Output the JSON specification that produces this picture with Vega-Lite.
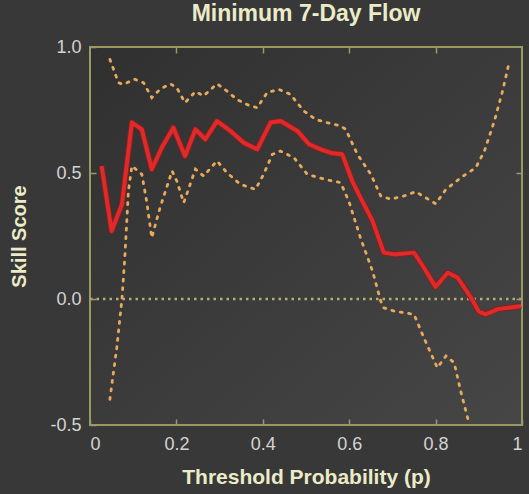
{
  "$schema": "https://vega.github.io/schema/vega-lite/v6.json",
  "width": 432,
  "height": 378,
  "autosize": "none",
  "padding": {"left": 90, "top": 47, "right": 7, "bottom": 69},
  "background": "#383838",
  "title": {"text": "Minimum 7-Day Flow", "fontSize": 23, "font": "Liberation Sans", "fontWeight": "bold", "color": "#ecebc8", "offset": 12, "anchor": "middle"},
  "config": {
    "view": {"stroke": "#9a9a60", "strokeWidth": 2, "fill": {"gradient": "linear", "x1": 0, "y1": 0, "x2": 1, "y2": 1, "stops": [{"offset": 0, "color": "#303030"}, {"offset": 1, "color": "#464646"}]}},
    "axis": {"domain": false, "grid": false, "labelFont": "Liberation Sans", "labelFontSize": 18, "labelColor": "#d4d4d0", "titleFont": "Liberation Sans", "titleFontSize": 21, "titleFontWeight": "bold", "titleColor": "#ecebc8"}
  },
  "datasets": {
    "red": [
      {"p":0.027,"s":0.528},{"p":0.05,"s":0.27},{"p":0.074,"s":0.376},{"p":0.097,"s":0.70},{"p":0.12,"s":0.673},{"p":0.143,"s":0.515},{"p":0.166,"s":0.60},{"p":0.193,"s":0.68},{"p":0.22,"s":0.567},{"p":0.244,"s":0.673},{"p":0.267,"s":0.634},{"p":0.294,"s":0.706},{"p":0.325,"s":0.667},{"p":0.356,"s":0.62},{"p":0.387,"s":0.594},{"p":0.418,"s":0.70},{"p":0.441,"s":0.706},{"p":0.48,"s":0.667},{"p":0.507,"s":0.614},{"p":0.534,"s":0.594},{"p":0.561,"s":0.578},{"p":0.584,"s":0.574},{"p":0.607,"s":0.468},{"p":0.63,"s":0.389},{"p":0.654,"s":0.31},{"p":0.68,"s":0.184},{"p":0.704,"s":0.177},{"p":0.75,"s":0.184},{"p":0.773,"s":0.124},{"p":0.80,"s":0.048},{"p":0.828,"s":0.104},{"p":0.851,"s":0.085},{"p":0.882,"s":0.005},{"p":0.90,"s":-0.05},{"p":0.916,"s":-0.061},{"p":0.943,"s":-0.041},{"p":0.998,"s":-0.028}
    ],
    "upper": [
      {"p":0.046,"s":0.951},{"p":0.066,"s":0.858},{"p":0.077,"s":0.852},{"p":0.104,"s":0.872},{"p":0.124,"s":0.858},{"p":0.143,"s":0.799},{"p":0.162,"s":0.832},{"p":0.186,"s":0.854},{"p":0.201,"s":0.838},{"p":0.22,"s":0.779},{"p":0.244,"s":0.823},{"p":0.263,"s":0.806},{"p":0.294,"s":0.854},{"p":0.317,"s":0.825},{"p":0.34,"s":0.792},{"p":0.367,"s":0.769},{"p":0.387,"s":0.759},{"p":0.41,"s":0.819},{"p":0.437,"s":0.832},{"p":0.464,"s":0.812},{"p":0.495,"s":0.746},{"p":0.522,"s":0.713},{"p":0.549,"s":0.70},{"p":0.58,"s":0.687},{"p":0.592,"s":0.673},{"p":0.619,"s":0.574},{"p":0.65,"s":0.495},{"p":0.673,"s":0.409},{"p":0.696,"s":0.396},{"p":0.727,"s":0.409},{"p":0.754,"s":0.426},{"p":0.777,"s":0.402},{"p":0.80,"s":0.378},{"p":0.824,"s":0.435},{"p":0.858,"s":0.481},{"p":0.893,"s":0.521},{"p":0.913,"s":0.587},{"p":0.936,"s":0.706},{"p":0.955,"s":0.825},{"p":0.971,"s":0.944}
    ],
    "lower": [
      {"p":0.046,"s":-0.398},{"p":0.062,"s":-0.193},{"p":0.074,"s":0.0},{"p":0.081,"s":0.177},{"p":0.089,"s":0.43},{"p":0.097,"s":0.528},{"p":0.12,"s":0.495},{"p":0.131,"s":0.389},{"p":0.143,"s":0.243},{"p":0.162,"s":0.362},{"p":0.19,"s":0.508},{"p":0.201,"s":0.468},{"p":0.217,"s":0.382},{"p":0.244,"s":0.515},{"p":0.263,"s":0.488},{"p":0.294,"s":0.548},{"p":0.317,"s":0.501},{"p":0.348,"s":0.455},{"p":0.383,"s":0.435},{"p":0.402,"s":0.495},{"p":0.422,"s":0.574},{"p":0.441,"s":0.587},{"p":0.472,"s":0.561},{"p":0.503,"s":0.495},{"p":0.53,"s":0.481},{"p":0.561,"s":0.468},{"p":0.58,"s":0.462},{"p":0.599,"s":0.389},{"p":0.626,"s":0.243},{"p":0.654,"s":0.111},{"p":0.673,"s":-0.008},{"p":0.68,"s":-0.035},{"p":0.704,"s":-0.048},{"p":0.75,"s":-0.061},{"p":0.773,"s":-0.154},{"p":0.804,"s":-0.273},{"p":0.824,"s":-0.226},{"p":0.843,"s":-0.253},{"p":0.858,"s":-0.365},{"p":0.878,"s":-0.497}
    ],
    "zero": [{"p0":0,"p1":1,"s":0}]
  },
  "resolve": {"axis": {"x": "independent", "y": "independent"}},
  "layer": [
    {
      "data": {"name": "zero"},
      "mark": {"type": "rule", "color": "#b4b072", "strokeWidth": 2.5, "strokeDash": [2.5, 4]},
      "encoding": {
        "x": {"field": "p0", "type": "quantitative", "scale": {"domain": [0, 1], "nice": false}, "title": "Threshold Probability (p)", "axis": {"orient": "bottom", "values": [0, 0.2, 0.4, 0.6, 0.8, 1], "format": "~g", "ticks": true, "tickSize": 6, "tickColor": "#9a9a68", "tickWidth": 1.5, "offset": -6, "zindex": 1, "labelPadding": 10, "titlePadding": 13}},
        "x2": {"field": "p1"},
        "y": {"field": "s", "type": "quantitative", "scale": {"domain": [-0.5, 1], "nice": false}, "title": "Skill Score", "axis": {"orient": "left", "values": [-0.5, 0, 0.5, 1], "labelExpr": "replace(format(datum.value, '.1f'), '\u2212', '-')", "ticks": true, "tickSize": 6, "tickColor": "#9a9a68", "tickWidth": 1.5, "offset": -6, "zindex": 1, "labelPadding": 9, "titlePadding": 20, "titleFontSize": 20}}
      }
    },
    {
      "data": {"name": "upper"},
      "mark": {"type": "line", "color": "#e8a95a", "strokeWidth": 2.8, "strokeDash": [2, 6.5], "strokeCap": "round", "clip": true},
      "encoding": {
        "x": {"field": "p", "type": "quantitative", "axis": {"orient": "top", "values": [0.2, 0.4, 0.6, 0.8], "labels": false, "title": null, "ticks": true, "tickSize": 6, "tickColor": "#9a9a68", "tickWidth": 1.5, "offset": -6, "zindex": 1}},
        "y": {"field": "s", "type": "quantitative", "axis": {"orient": "right", "values": [0, 0.5], "labels": false, "title": null, "ticks": true, "tickSize": 6, "tickColor": "#9a9a68", "tickWidth": 1.5, "offset": -6, "zindex": 1}}
      }
    },
    {
      "data": {"name": "lower"},
      "mark": {"type": "line", "color": "#e8a95a", "strokeWidth": 2.8, "strokeDash": [2, 6.5], "strokeCap": "round", "clip": true},
      "encoding": {
        "x": {"field": "p", "type": "quantitative", "axis": null},
        "y": {"field": "s", "type": "quantitative", "axis": null}
      }
    },
    {
      "data": {"name": "red"},
      "mark": {"type": "line", "color": "#7e2222", "strokeWidth": 6, "strokeJoin": "round", "clip": true},
      "encoding": {
        "x": {"field": "p", "type": "quantitative", "axis": null},
        "y": {"field": "s", "type": "quantitative", "axis": null}
      }
    },
    {
      "data": {"name": "red"},
      "mark": {"type": "line", "color": "#e02a2a", "strokeWidth": 4, "strokeJoin": "round", "clip": true},
      "encoding": {
        "x": {"field": "p", "type": "quantitative", "axis": null},
        "y": {"field": "s", "type": "quantitative", "axis": null}
      }
    }
  ]
}
